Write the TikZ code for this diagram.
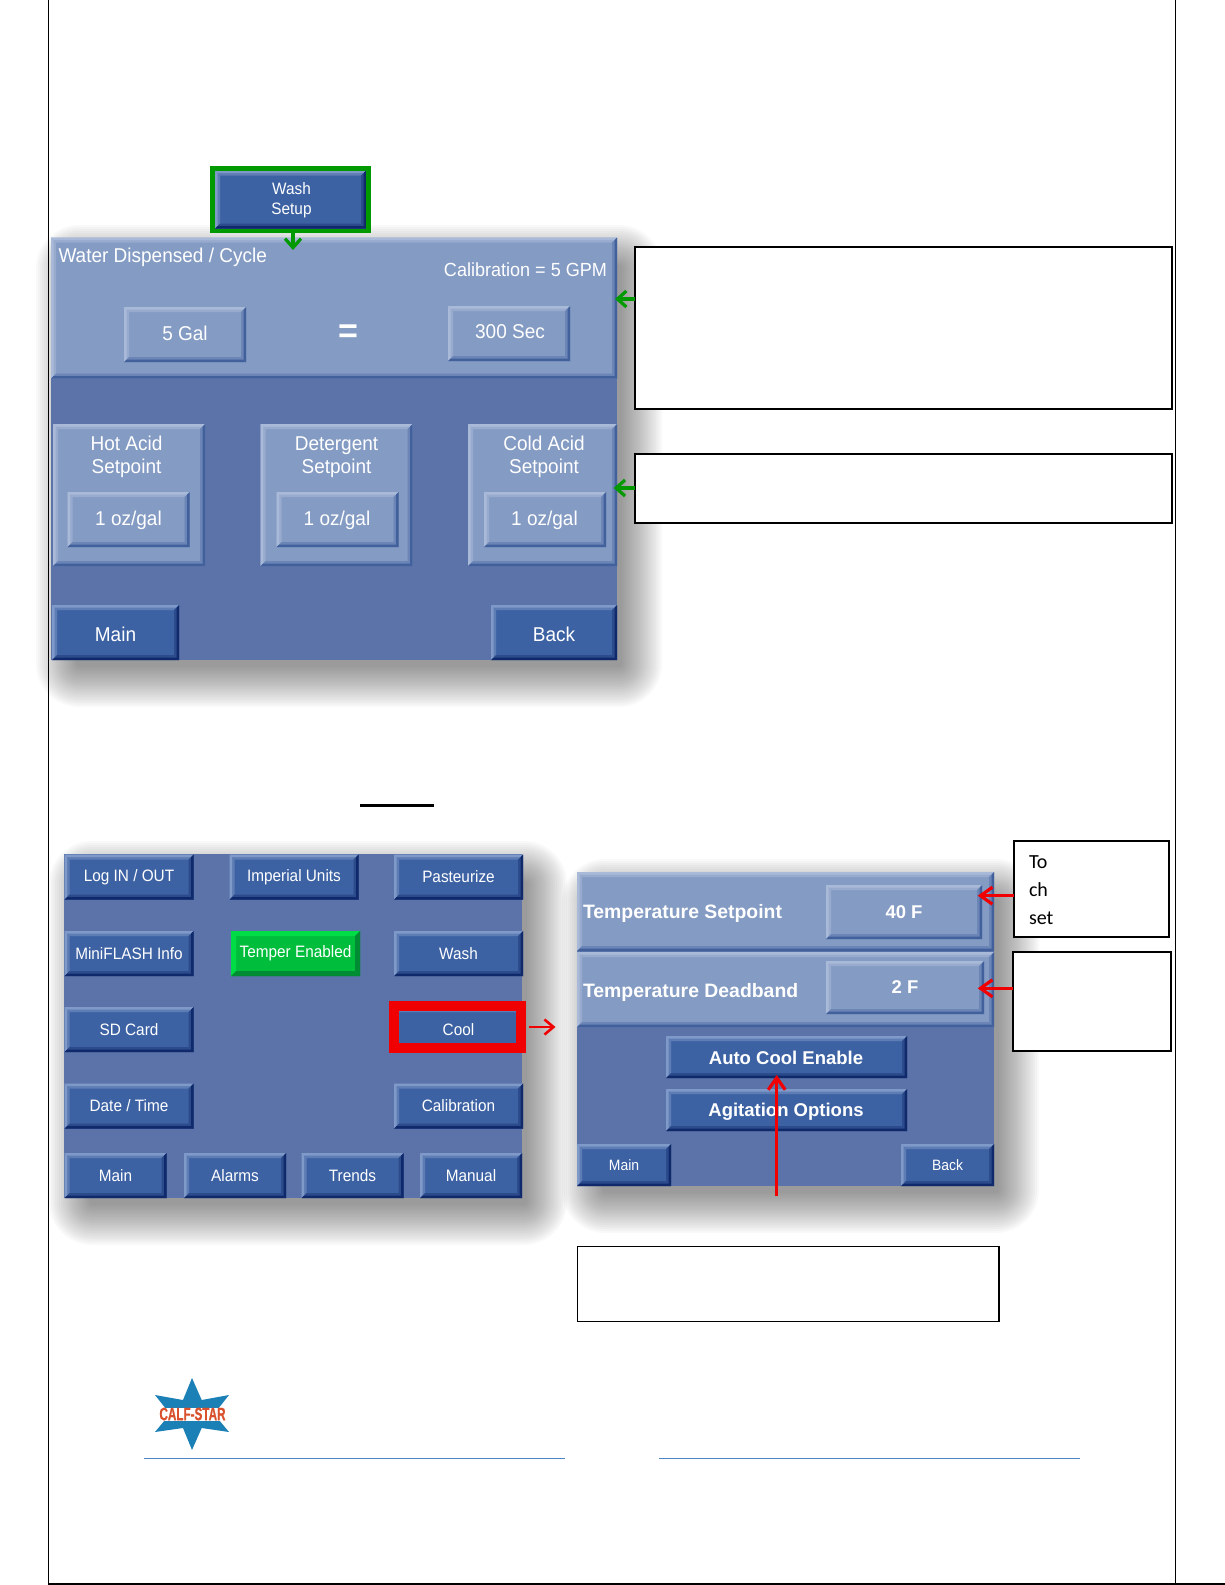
\documentclass[tikz,border=0pt]{standalone}
\usepackage{fontspec}
\setmainfont{Liberation Sans}
\newfontfamily\notefont{Carlito}
\newfontfamily\logofont[FakeStretch=.65,FakeBold=.8]{Liberation Sans}
\newfontfamily\bigface[FakeStretch=.95]{Liberation Sans}
\newfontfamily\menuface[FakeStretch=.93]{Liberation Sans}
\usetikzlibrary{arrows.meta, positioning}
\definecolor{panelbase}{HTML}{5B73A8}
\definecolor{panellight}{HTML}{849BC3}
\definecolor{btnblue}{HTML}{3D62A3}
\definecolor{btnhi}{HTML}{7F9AC8}
\definecolor{btnmid}{HTML}{5E7DB4}
\definecolor{btnlo}{HTML}{10296B}
\definecolor{btnlomid}{HTML}{2C4B8C}
\definecolor{lighthi}{HTML}{A9BAD8}
\definecolor{lightmid}{HTML}{98ABCE}
\definecolor{lightlo}{HTML}{41609C}
\definecolor{lightlomid}{HTML}{6A85B6}
\definecolor{tempergreen}{HTML}{00BE3C}
\definecolor{temperhi}{HTML}{00DC46}
\definecolor{temperlo}{HTML}{008C32}
\definecolor{markgreen}{HTML}{009A00}
\definecolor{markred}{HTML}{F00000}
\definecolor{starblue}{HTML}{1A80B5}
\definecolor{starred}{HTML}{D9512C}
\definecolor{rulefoot}{HTML}{4A86C8}
\newcommand{\bevelband}[3]{
    \fill[#2] (nw) -- (ne) -- ([shift={(-#1,#1)}]ne) -- ([shift={(#1,#1)}]nw) -- cycle;
    \fill[#2] (nw) -- (sw) -- ([shift={(#1,-#1)}]sw) -- ([shift={(#1,#1)}]nw) -- cycle;
    \fill[#3] (sw) -- (se) -- ([shift={(-#1,-#1)}]se) -- ([shift={(#1,-#1)}]sw) -- cycle;
    \fill[#3] (ne) -- (se) -- ([shift={(-#1,-#1)}]se) -- ([shift={(-#1,#1)}]ne) -- cycle;
}
\newcommand{\panelshadow}[4]{
    \foreach \m in {30,28,...,-10}{
        \pgfmathsetmacro{\rad}{\m+13}
        \fill[black,opacity=.022,rounded corners=\rad pt] ({#1+15-\m},{#2+17-\m}) rectangle ({#3+15+\m},{#4+17+\m});
    }
}
\begin{document}
\begin{tikzpicture}[
    x=1pt,y=-1pt,
    every node/.style={inner sep=0pt,outer sep=0pt},
    bevel/.style n args={4}{path picture={
        \coordinate (nw) at (path picture bounding box.north west);
        \coordinate (ne) at (path picture bounding box.north east);
        \coordinate (sw) at (path picture bounding box.south west);
        \coordinate (se) at (path picture bounding box.south east);
        \bevelband{5}{#2}{#4}
        \bevelband{2.5}{#1}{#3}
    }},
    darkbtn/.style={fill=btnblue,text=white,align=center,bevel={btnhi}{btnmid}{btnlo}{btnlomid}},
    lightbtn/.style={fill=panellight,text=white,align=center,bevel={lighthi}{lightmid}{lightlo}{lightlomid}},
    bigfont/.style={font=\bigface\fontsize{20}{23}\selectfont},
    menufont/.style={font=\menuface\fontsize{16.5}{20}\selectfont},
    coolfont/.style={font=\fontsize{18.5}{22}\selectfont\bfseries},
    labelfont/.style={font=\fontsize{19.4}{22}\selectfont\bfseries},
    panelbtn/.style={darkbtn,menufont,minimum width=129,minimum height=45},
    footbtn/.style={darkbtn,menufont,minimum width=102,minimum height=45},
    ozbtn/.style={lightbtn,bigfont,minimum width=122,minimum height=55},
    groupbox/.style={lightbtn,minimum width=152,minimum height=142},
    paneltext/.style={text=white},
    notebox/.style={draw=black,fill=white,line width=1.7pt},
    greenmark/.style={draw=markgreen,line width=3.2pt,-{Straight Barb[length=9pt,width=16pt]}},
    redmark/.style={draw=markred,line width=3.2pt,-{Straight Barb[length=12pt,width=17pt]}},
]
    \useasboundingbox (0,0) rectangle (1225,1585);

    % shadows
    \panelshadow{51}{238}{617}{660}
    \panelshadow{64}{854}{522}{1198}
    \panelshadow{577}{872}{994}{1186}

    % wash setup screen
    \node[darkbtn,menufont,minimum width=151,minimum height=58] (washbtn) at (290.5,199.5) {};
    \node[paneltext,menufont,align=center] (washtxt) at (291.5,200.5) {Wash\\Setup};
    \node[draw=markgreen,line width=4.5pt,minimum width=156,minimum height=62.5] (washframe) at (290.5,199.5) {};

    \node[fill=panelbase,minimum width=566,minimum height=422] (panelA) at (334,449) {};
    \node[lightbtn,minimum width=566,minimum height=141] (topband) at (334,308) {};
    \node[paneltext,bigfont,anchor=west] (watertxt) at (58.5,257) {Water Dispensed / Cycle};
    \node[paneltext,font=\bigface\fontsize{19}{22}\selectfont,anchor=east] (calibtxt) at (607,270) {Calibration = 5 GPM};
    \node[lightbtn,minimum width=122,minimum height=55] (galbtn) at (185,334.5) {};
    \node[paneltext,bigfont] (galtxt) at (185,333.5) {5 Gal};
    \node[lightbtn,minimum width=122,minimum height=55] (secbtn) at (509,333.5) {};
    \node[paneltext,bigfont] (sectxt) at (510,331.5) {300 Sec};
    \node[paneltext,font=\fontsize{34}{34}\selectfont\bfseries] (equal) at (348,334) {=};

    \node[groupbox] (hotgrp) at (129,495) {};
    \node[groupbox] (detgrp) at (336.5,495) {};
    \node[groupbox,minimum width=149] (coldgrp) at (542.5,495) {};
    \node[paneltext,bigfont,align=center] (hottxt) at (126.5,457) {Hot Acid\\Setpoint};
    \node[paneltext,bigfont,align=center] (dettxt) at (336.5,457) {Detergent\\Setpoint};
    \node[paneltext,bigfont,align=center] (coldtxt) at (544,457) {Cold Acid\\Setpoint};
    \node[ozbtn] (hotoz) at (128.5,519.5) {};
    \node[ozbtn] (detoz) at (337.5,519.5) {};
    \node[ozbtn] (coldoz) at (545,519.5) {};
    \node[paneltext,bigfont] (hotval) at (128.5,520.5) {1 oz/gal};
    \node[paneltext,bigfont] (detval) at (337,520.5) {1 oz/gal};
    \node[paneltext,bigfont] (coldval) at (544.5,520.5) {1 oz/gal};
    \node[darkbtn,minimum width=127,minimum height=55] (mainA) at (115.5,632.5) {};
    \node[darkbtn,minimum width=126,minimum height=55] (backA) at (554,632.5) {};
    \node[paneltext,bigfont] (mainAtxt) at (115.5,634) {Main};
    \node[paneltext,bigfont] (backAtxt) at (554,634) {Back};

    % settings menu
    \draw[black,line width=2.7pt] (360,805.3) -- (434,805.3);
    \node[fill=panelbase,minimum width=458,minimum height=344] (panelC) at (293,1026) {};
    \node[panelbtn] (login) at (129,877) {\raisebox{-1pt}{Log IN / OUT}};
    \node[panelbtn] (units) at (294,877) {\raisebox{-1pt}{Imperial Units}};
    \node[panelbtn] (pasteur) at (458.5,877) {\raisebox{-1pt}{Pasteurize}};
    \node[panelbtn] (miniflash) at (129,953.5) {MiniFLASH Info};
    \node[fill=tempergreen,text=white,menufont,align=center,bevel={temperhi}{temperhi}{temperlo}{temperlo},minimum width=129,minimum height=45] (temper) at (295.5,953.5) {\raisebox{-2pt}{Temper Enabled}};
    \node[panelbtn] (washC) at (458.5,953.5) {Wash};
    \node[panelbtn] (sdcard) at (129,1029.5) {SD Card};
    \node[panelbtn] (cool) at (458.5,1029.5) {Cool};
    \node[draw=markred,line width=10pt,minimum width=127,minimum height=42] (coolframe) at (457.6,1027) {};
    \node[panelbtn] (datetime) at (129,1106) {Date / Time};
    \node[panelbtn] (calib) at (458.5,1106) {Calibration};
    \node[footbtn] (mainC) at (115.5,1175.5) {Main};
    \node[footbtn] (alarms) at (235,1175.5) {Alarms};
    \node[footbtn] (trends) at (352.5,1175.5) {Trends};
    \node[footbtn] (manual) at (471,1175.5) {Manual};

    % cool screen
    \node[fill=panelbase,minimum width=417,minimum height=314] (panelD) at (785.5,1029) {};
    \node[lightbtn,minimum width=417,minimum height=79] (setband) at (785.5,911.5) {};
    \node[lightbtn,minimum width=417,minimum height=75] (deadband) at (785.5,989.5) {};
    \node[paneltext,labelfont,anchor=west] (settxt) at (583,913.5) {Temperature Setpoint};
    \node[paneltext,labelfont,anchor=west] (deadtxt) at (583,992.5) {Temperature Deadband};
    \node[lightbtn,coolfont,minimum width=156,minimum height=54] (fortyf) at (904,912) {40 F};
    \node[lightbtn,coolfont,minimum width=158,minimum height=53] (twof) at (905,987.5) {2 F};
    \node[darkbtn,minimum width=241,minimum height=42] (autocool) at (786.5,1057) {};
    \node[darkbtn,minimum width=241,minimum height=42] (agitation) at (786.5,1110) {};
    \node[paneltext,coolfont] (autotxt) at (786,1058) {Auto Cool Enable};
    \node[paneltext,coolfont] (agitxt) at (786,1112) {Agitation Options};
    \node[darkbtn,font=\menuface\fontsize{15}{18}\selectfont,minimum width=94,minimum height=42] (mainD) at (624,1165) {\raisebox{-1pt}{Main}};
    \node[darkbtn,font=\menuface\fontsize{15}{18}\selectfont,minimum width=93,minimum height=42] (backD) at (947.5,1165) {\raisebox{-1pt}{Back}};

    % page rules
    \draw[black,line width=1.5pt] (48.6,0) -- (48.6,1584) -- (1225,1584);
    \draw[black,line width=1.5pt] (1175.6,0) -- (1175.6,1584);

    % notes
    \node[notebox,minimum width=537,minimum height=162.3] (noteA) at (903.2,327.8) {};
    \node[notebox,minimum width=537,minimum height=69.6] (noteB) at (903.2,488.5) {};
    \node[notebox,line width=2pt,minimum width=155.6,minimum height=96.6] (noteC) at (1091.6,889) {};
    \node[notebox,line width=2pt,minimum width=157.7,minimum height=99.3] (noteD) at (1092.2,1001.4) {};
    \node[notebox,line width=1.3pt,minimum width=421.6,minimum height=74.6] (noteE) at (788.2,1284) {};
    \node[anchor=west,align=left,font=\notefont\fontsize{20}{28}\selectfont] (notetxt) at (1029,890) {To\\ch\\set};

    % markers
    \coordinate (tipW) at (293,250);
    \coordinate (tipA) at (615,299);
    \coordinate (tipB) at (613.6,488);
    \coordinate (tipC) at (533,1027);
    \coordinate (endC) at (555.5,1027);
    \coordinate (tipD) at (977.7,895.7);
    \coordinate (tipE) at (977.7,988.3);
    \coordinate (tipF) at (776.7,1075);
    \coordinate (tailF) at (776.7,1196);
    \draw[greenmark] (tipW |- washframe.south) -- (tipW);
    \draw[greenmark] (noteA.west |- tipA) -- (tipA);
    \draw[greenmark] (noteB.west |- tipB) -- (tipB);
    \draw[redmark,line width=2.6pt,-{Straight Barb[length=9pt,width=15pt]}] (tipC -| coolframe.east) ++(7.5,0) -- (endC);
    \draw[redmark] (noteC.west |- tipD) -- (tipD);
    \draw[redmark] (noteD.west |- tipE) -- (tipE);
    \draw[redmark] (tailF) -- (tipF);

    % logo and foot rules
    \fill[starblue] (192,1378) -- (201.7,1400) -- (229,1395) -- (214,1414) -- (229,1432) -- (201.7,1428) -- (192,1450) -- (183,1428) -- (155,1432) -- (170,1414) -- (155,1395) -- (183,1400) -- cycle;
    \node[fill=white,minimum width=65,minimum height=13,text=starred,font=\logofont\fontsize{18}{18}\selectfont\bfseries] (logotxt) at (192.5,1414) {CALF-STAR};
    \draw[rulefoot,line width=1.1pt] (144,1458.3) -- (565,1458.3);
    \draw[rulefoot,line width=1.1pt] (659,1458.3) -- (1080.4,1458.3);
\end{tikzpicture}
\end{document}
